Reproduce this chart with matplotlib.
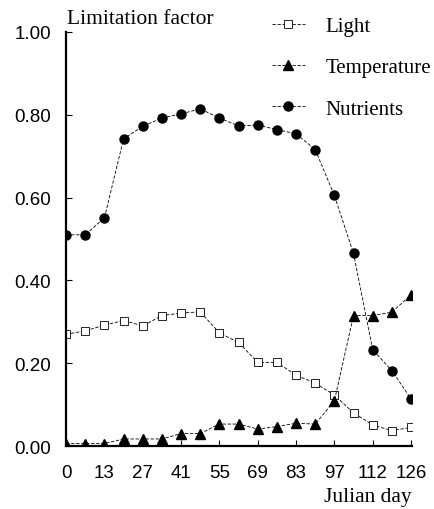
import matplotlib
matplotlib.use("Agg")
import matplotlib.pyplot as plt

# sampling days (equally spaced on the plot), labels every other point
days = [0, 7, 13, 20, 27, 34, 41, 48, 55, 62, 69, 76, 83, 90, 97, 104, 112, 119, 126]

light = [0.27, 0.278, 0.292, 0.303, 0.29, 0.315, 0.321, 0.324, 0.273, 0.25,
         0.202, 0.202, 0.171, 0.152, 0.123, 0.08, 0.051, 0.037, 0.045]
temperature = [0.006, 0.006, 0.006, 0.017, 0.017, 0.017, 0.03, 0.03, 0.053, 0.053,
               0.041, 0.047, 0.055, 0.053, 0.109, 0.315, 0.315, 0.323, 0.365]
nutrients = [0.51, 0.51, 0.551, 0.742, 0.772, 0.792, 0.802, 0.814, 0.792, 0.773,
             0.775, 0.764, 0.754, 0.716, 0.605, 0.465, 0.233, 0.182, 0.114]

yticks = [0.0, 0.2, 0.4, 0.6, 0.8, 1.0]

serif = "Liberation Serif"
sans = "Liberation Sans"

fig = plt.figure(figsize=(4.35, 5.1), dpi=100)
ax = fig.add_axes([0.152, 0.1235, 0.795, 0.812])

x = list(range(len(days)))
dash = (0, (4, 2))
ax.plot(x, light, color="black", lw=0.6, ls=dash, marker="s", ms=6,
        mfc="white", mec="black", mew=0.6, label="Light")
ax.plot(x, temperature, color="black", lw=0.6, ls=dash, marker="^", ms=6.5,
        mfc="black", mec="black", label="Temperature")
ax.plot(x, nutrients, color="black", lw=0.6, ls=dash, marker="o", ms=6.5,
        mfc="black", mec="black", label="Nutrients")

ax.set_xlim(0, len(days) - 1 + 0.05)
ax.set_ylim(0, 1.0)
ax.set_xticks(x[::2])
ax.set_xticklabels([str(d) for d in days[::2]], fontfamily=sans, fontsize=13.5)
ax.set_yticks(yticks)
ax.set_yticklabels([f"{v:.2f}" for v in yticks], fontfamily=sans, fontsize=13.5)
ax.tick_params(direction="in", length=4, width=0.8, pad=11)
ax.tick_params(axis="x", pad=13)

for s in ["top", "right"]:
    ax.spines[s].set_visible(False)
for s in ["left", "bottom"]:
    ax.spines[s].set_linewidth(1.6)
ax.patch.set_alpha(0)

ax.legend(loc="upper left", bbox_to_anchor=(0.57, 1.058), frameon=False,
          prop={"family": serif, "size": 15}, handlelength=1.6,
          labelspacing=1.05, handletextpad=1.0, borderaxespad=0)

fig.text(0.155, 0.952, "Limitation factor", fontfamily=serif, fontsize=15.5)
fig.text(0.947, 0.015, "Julian day", fontfamily=serif, fontsize=15.5, ha="right")

fig.savefig("out.png", dpi=100)
